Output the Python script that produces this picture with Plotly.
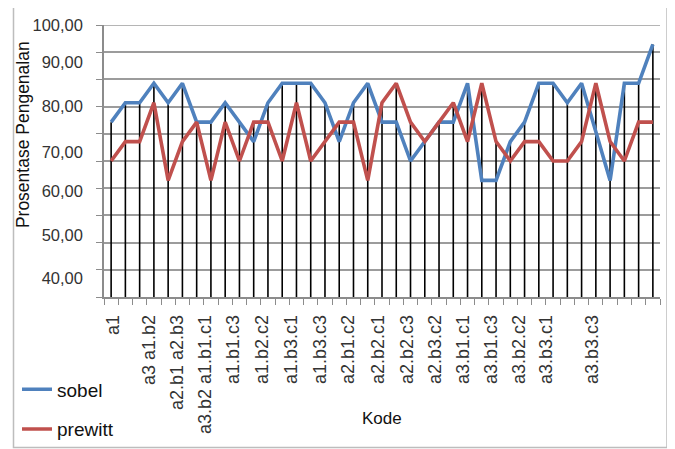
import plotly.graph_objects as go

# ---------------- data ----------------
categories = [
    "a1", "a2", "a3",
    "a1.b1", "a1.b2", "a1.b3", "a2.b1", "a2.b2", "a2.b3", "a3.b1", "a3.b2", "a3.b3",
    "a1.b1.c1", "a1.b1.c2", "a1.b1.c3", "a1.b2.c1", "a1.b2.c2", "a1.b2.c3",
    "a1.b3.c1", "a1.b3.c2", "a1.b3.c3", "a2.b1.c1", "a2.b1.c2", "a2.b1.c3",
    "a2.b2.c1", "a2.b2.c2", "a2.b2.c3", "a2.b3.c1", "a2.b3.c2", "a2.b3.c3",
    "a3.b1.c1", "a3.b1.c2", "a3.b1.c3", "a3.b2.c1", "a3.b2.c2", "a3.b2.c3",
    "a3.b3.c1", "a3.b3.c2", "a3.b3.c3",
]

sobel = [
    82.14, 85.71, 85.71, 89.29, 85.71, 89.29, 82.14, 82.14, 85.71, 82.14,
    78.57, 85.71, 89.29, 89.29, 89.29, 85.71, 78.57, 85.71, 89.29, 82.14,
    82.14, 75.00, 78.57, 82.14, 82.14, 89.29, 71.43, 71.43, 78.57, 82.14,
    89.29, 89.29, 85.71, 89.29, 80.36, 71.43, 89.29, 89.29, 96.43,
]

prewitt = [
    75.00, 78.57, 78.57, 85.71, 71.43, 78.57, 82.14, 71.43, 82.14, 75.00,
    82.14, 82.14, 75.00, 85.71, 75.00, 78.57, 82.14, 82.14, 71.43, 85.71,
    89.29, 82.14, 78.57, 82.14, 85.71, 78.57, 89.29, 78.57, 75.00, 78.57,
    78.57, 75.00, 75.00, 78.57, 89.29, 78.57, 75.00, 82.14, 82.14,
]

# tick labels as they appear in the picture
x_tick_text = [
    "a1", "a3 a1.b2", "a2.b1 a2.b3", "a3.b2 a1.b1.c1", "a1.b1.c3", "a1.b2.c2",
    "a1.b3.c1", "a1.b3.c3", "a2.b1.c2", "a2.b2.c1", "a2.b2.c3", "a2.b3.c2",
    "a3.b1.c1", "a3.b1.c3", "a3.b2.c2", "a3.b3.c1", "a3.b3.c3",
]
x_tick_pos = [
    0.13, 2.66, 4.62, 6.58, 8.54, 10.58, 12.61, 14.64, 16.60, 18.70,
    20.74, 22.70, 24.66, 26.69, 28.65, 30.55, 33.77,
]
y_tick_text = ["100,00", "90,00", "80,00", "70,00", "60,00", "50,00", "40,00"]
y_tick_pos = [100, 93.1, 85.0, 76.7, 69.4, 61.4, 53.5]

Y_MIN, Y_MAX = 50, 100

# ---------------- figure ----------------
# the page body has an 8px default margin: the figure starts at (8, 8)
OFF = 8
W, H = 675 - OFF, 449 - OFF
ML, MR, MT, MB = 104 - OFF, 15, 25 - OFF, 152.3
PW, PH = W - ML - MR, H - MT - MB


def px(x):
    """screen x (reference pixels) -> paper x"""
    return (x - OFF - ML) / PW


def py(y):
    """screen y (reference pixels) -> paper y"""
    return (H - MB - (y - OFF)) / PH


xs = list(range(len(categories)))
tops = [max(a, b) for a, b in zip(sobel, prewitt)]

FONT = "Liberation Sans, Arial, sans-serif"

fig = go.Figure()

# drop lines (from highest point of each category down to the axis)
fig.add_trace(go.Scatter(
    x=xs, y=tops, mode="markers",
    marker=dict(size=1, opacity=0),
    error_y=dict(type="data", symmetric=False,
                 array=[0] * len(tops),
                 arrayminus=[t - Y_MIN for t in tops],
                 color="black", thickness=1.6, width=0),
    showlegend=False, hoverinfo="skip", cliponaxis=False,
))

fig.add_trace(go.Scatter(
    x=xs, y=sobel, mode="lines", name="sobel", legendgroup="s",
    line=dict(color="#4F81BD", width=3.6), text=categories, cliponaxis=False,
))
fig.add_trace(go.Scatter(
    x=xs, y=prewitt, mode="lines", name="prewitt", legendgroup="p",
    line=dict(color="#C0504D", width=3.6), text=categories, cliponaxis=False,
))

fig.update_layout(
    width=W, height=H,
    margin=dict(l=ML, r=MR, t=MT, b=MB, autoexpand=False),
    paper_bgcolor="white", plot_bgcolor="white",
    font=dict(family=FONT, color="#222222"),
    legend=dict(
        x=px(17), y=py(370), xanchor="left", yanchor="top",
        font=dict(size=19, color="#111111", family=FONT),
        tracegroupgap=12, bgcolor="rgba(0,0,0,0)",
    ),
    xaxis=dict(
        range=[-0.5, len(categories) - 0.5], automargin=False,
        tickmode="array", tickvals=x_tick_pos, ticktext=x_tick_text,
        tickangle=-90, ticks="", showgrid=False, zeroline=False,
        tickfont=dict(size=18, color="#333333", family=FONT),
        ticklabelstandoff=9,
        showline=True, linecolor="#8c8c8c", linewidth=1.5,
        minor=dict(tickmode="linear", tick0=-0.5, dtick=1, ticks="outside",
                   ticklen=6, tickcolor="#8c8c8c", tickwidth=1.2, showgrid=False),
    ),
    yaxis=dict(
        range=[Y_MIN, Y_MAX], automargin=False,
        tickmode="array", tickvals=y_tick_pos, ticktext=y_tick_text,
        ticks="", showgrid=False, zeroline=False,
        tickfont=dict(size=16.5, color="#333333", family=FONT),
        ticklabelstandoff=16,
        showline=True, linecolor="#8c8c8c", linewidth=1.5,
        minor=dict(tickmode="linear", tick0=Y_MIN, dtick=5, ticks="outside",
                   ticklen=6, tickcolor="#8c8c8c", tickwidth=1.2,
                   showgrid=True, gridcolor="#9c9c9c", gridwidth=1.6),
    ),
    annotations=[
        dict(text="Kode", x=px(382), y=py(418), xref="paper", yref="paper",
             showarrow=False, xanchor="center", yanchor="middle",
             font=dict(size=17, color="#111111", family=FONT)),
        dict(text="Prosentase Pengenalan", x=px(23), y=py(135),
             xref="paper", yref="paper", textangle=-90,
             showarrow=False, xanchor="center", yanchor="middle",
             font=dict(size=17.5, color="#111111", family=FONT)),
    ],
    shapes=[
        dict(type="rect", xref="paper", yref="paper",
             x0=px(13.5), x1=px(667), y0=py(447), y1=py(4),
             line=dict(color="#bdbdbd", width=1.5), fillcolor="rgba(0,0,0,0)",
             layer="below"),
        # top gridline at 100 (boundary of the plot area)
        dict(type="line", xref="paper", yref="y", x0=0, x1=1,
             y0=Y_MAX, y1=Y_MAX, line=dict(color="#9c9c9c", width=1.6),
             layer="below"),
    ],
)

fig.write_html("out.html")
